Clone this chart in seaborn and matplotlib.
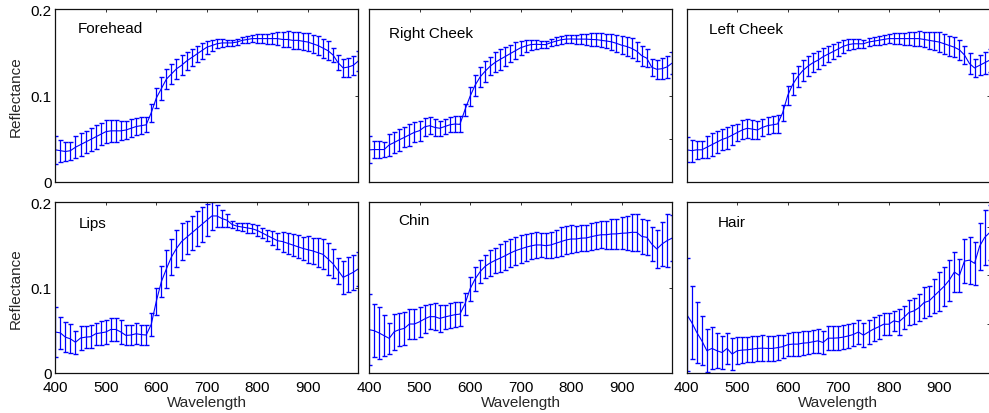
import matplotlib
matplotlib.use("Agg")
import matplotlib.pyplot as plt
import seaborn as sns
import pandas as pd

# ---------------- data ----------------
wavelength = [400, 410, 420, 430, 440, 450, 460, 470, 480, 490, 500,
              510, 520, 530, 540, 550, 560, 570, 580, 590, 600,
              610, 620, 630, 640, 650, 660, 670, 680, 690, 700,
              710, 720, 730, 740, 750, 760, 770, 780, 790, 800,
              810, 820, 830, 840, 850, 860, 870, 880, 890, 900,
              910, 920, 930, 940, 950, 960, 970, 980, 990, 1000]

panel_names = ["Forehead", "Right Cheek", "Left Cheek", "Lips", "Chin", "Hair"]

forehead_mean = [0.037, 0.036, 0.035, 0.036, 0.040, 0.043, 0.046, 0.049, 0.052, 0.055, 0.058,
                 0.059, 0.059, 0.059, 0.060, 0.062, 0.064, 0.065, 0.066, 0.080, 0.097,
                 0.108, 0.119, 0.125, 0.131, 0.135, 0.140, 0.144, 0.148, 0.152, 0.156,
                 0.158, 0.160, 0.161, 0.161, 0.161, 0.162, 0.164, 0.165, 0.166, 0.166,
                 0.166, 0.166, 0.166, 0.166, 0.165, 0.165, 0.164, 0.164, 0.163, 0.162,
                 0.160, 0.158, 0.155, 0.152, 0.147, 0.138, 0.132, 0.133, 0.135, 0.140]
forehead_std = [0.016, 0.0126, 0.0106, 0.0103, 0.0126, 0.013, 0.0126, 0.0135, 0.0135, 0.0126, 0.013,
                0.0128, 0.0128, 0.011, 0.0106, 0.0106, 0.010, 0.0097, 0.0087, 0.0104, 0.0116,
                0.0135, 0.0112, 0.0116, 0.0116, 0.0116, 0.0106, 0.010, 0.0093, 0.0093, 0.0077,
                0.0068, 0.0054, 0.0043, 0.0033, 0.0033, 0.003, 0.0033, 0.0037, 0.0043, 0.0048,
                0.0052, 0.0058, 0.0068, 0.0073, 0.0085, 0.0093, 0.0102, 0.010, 0.010, 0.0102,
                0.0106, 0.011, 0.011, 0.011, 0.0077, 0.0087, 0.010, 0.011, 0.011, 0.012]

rcheek_mean = [0.0369, 0.0373, 0.0373, 0.0373, 0.0427, 0.0455, 0.0486, 0.0514, 0.0544, 0.0573, 0.0592,
               0.0636, 0.065, 0.063, 0.062, 0.064, 0.066, 0.0669, 0.0665, 0.0834, 0.0988,
               0.1118, 0.1215, 0.1282, 0.134, 0.1385, 0.142, 0.1453, 0.1487, 0.152, 0.1553,
               0.1574, 0.159, 0.1594, 0.1592, 0.159, 0.1613, 0.163, 0.1646, 0.1654, 0.1656,
               0.1654, 0.1654, 0.1654, 0.165, 0.1648, 0.164, 0.1632, 0.1623, 0.1605, 0.1584,
               0.1569, 0.1547, 0.1515, 0.1462, 0.1433, 0.1327, 0.1304, 0.1311, 0.1331, 0.1375]
rcheek_std = [0.0157, 0.0102, 0.0102, 0.009, 0.0126, 0.0126, 0.0126, 0.0116, 0.0126, 0.0116, 0.0116,
              0.0102, 0.0097, 0.0097, 0.0087, 0.0087, 0.0087, 0.0089, 0.0093, 0.0068, 0.0106,
              0.012, 0.012, 0.0122, 0.0102, 0.0116, 0.012, 0.0106, 0.0102, 0.0097, 0.0083,
              0.0073, 0.0058, 0.0054, 0.0044, 0.0043, 0.0043, 0.0044, 0.0048, 0.0048, 0.005,
              0.0052, 0.0056, 0.0064, 0.0072, 0.0077, 0.008, 0.0085, 0.009, 0.0097, 0.0102,
              0.0106, 0.0116, 0.011, 0.0116, 0.0106, 0.0097, 0.0112, 0.012, 0.013, 0.0126]

lcheek_mean = [0.037, 0.036, 0.037, 0.037, 0.040, 0.043, 0.046, 0.049, 0.051, 0.054, 0.057,
               0.060, 0.062, 0.061, 0.060, 0.063, 0.065, 0.066, 0.067, 0.080, 0.100,
               0.113, 0.122, 0.129, 0.134, 0.138, 0.141, 0.145, 0.148, 0.151, 0.154,
               0.157, 0.159, 0.160, 0.160, 0.160, 0.162, 0.163, 0.164, 0.165, 0.166,
               0.166, 0.166, 0.166, 0.166, 0.166, 0.166, 0.165, 0.164, 0.163, 0.162,
               0.160, 0.158, 0.156, 0.153, 0.147, 0.137, 0.132, 0.135, 0.138, 0.141]
lcheek_std = [0.0145, 0.0126, 0.0106, 0.0097, 0.013, 0.013, 0.0126, 0.0126, 0.0126, 0.012, 0.0097,
              0.011, 0.011, 0.011, 0.0106, 0.0097, 0.0097, 0.0097, 0.0102, 0.0093, 0.0116,
              0.0126, 0.0126, 0.012, 0.0116, 0.011, 0.0106, 0.010, 0.0097, 0.009, 0.0083,
              0.0073, 0.006, 0.0055, 0.005, 0.0048, 0.0048, 0.0048, 0.005, 0.0052, 0.0055,
              0.006, 0.0065, 0.007, 0.0075, 0.008, 0.0087, 0.009, 0.0097, 0.0106, 0.0116,
              0.0116, 0.0116, 0.0116, 0.0116, 0.011, 0.0126, 0.0106, 0.0116, 0.0126, 0.0135]

lips_mean = [0.048, 0.047, 0.042, 0.040, 0.036, 0.041, 0.042, 0.0425, 0.046, 0.047, 0.048,
             0.051, 0.051, 0.048, 0.044, 0.0445, 0.046, 0.045, 0.0445, 0.057, 0.084,
             0.107, 0.122, 0.136, 0.146, 0.154, 0.159, 0.164, 0.169, 0.174, 0.179,
             0.184, 0.184, 0.181, 0.179, 0.174, 0.172, 0.171, 0.170, 0.169, 0.167,
             0.164, 0.161, 0.158, 0.155, 0.154, 0.152, 0.150, 0.148, 0.146, 0.1445,
             0.143, 0.141, 0.139, 0.1336, 0.128, 0.120, 0.112, 0.115, 0.118, 0.122]
lips_std = [0.029, 0.0186, 0.0172, 0.017, 0.0137, 0.0143, 0.0129, 0.0137, 0.0127, 0.0137, 0.0137,
            0.0131, 0.0137, 0.0137, 0.0117, 0.0121, 0.0121, 0.0117, 0.0117, 0.0137, 0.016,
            0.018, 0.022, 0.021, 0.022, 0.0215, 0.0195, 0.020, 0.0205, 0.0205, 0.019,
            0.0166, 0.013, 0.0105, 0.0078, 0.004, 0.0043, 0.0045, 0.0055, 0.0053, 0.0059,
            0.0059, 0.0068, 0.0086, 0.0094, 0.0117, 0.0123, 0.013, 0.0137, 0.0137, 0.0156,
            0.0156, 0.0166, 0.0176, 0.019, 0.0172, 0.0152, 0.019, 0.0205, 0.0205, 0.0195]

chin_mean = [0.0508, 0.0496, 0.0469, 0.0437, 0.0406, 0.0484, 0.0508, 0.0523, 0.0574, 0.0574, 0.060,
             0.0633, 0.066, 0.066, 0.064, 0.0656, 0.067, 0.0683, 0.069, 0.0808, 0.0984,
             0.110, 0.1187, 0.125, 0.129, 0.132, 0.1347, 0.1375, 0.1406, 0.1433, 0.1453,
             0.1472, 0.1488, 0.150, 0.150, 0.1492, 0.150, 0.152, 0.1539, 0.1558, 0.157,
             0.157, 0.158, 0.1582, 0.1597, 0.161, 0.162, 0.162, 0.1629, 0.163, 0.1637,
             0.164, 0.1648, 0.1648, 0.160, 0.159, 0.151, 0.1453, 0.151, 0.155, 0.158]
chin_std = [0.042, 0.031, 0.030, 0.024, 0.018, 0.021, 0.019, 0.019, 0.017, 0.018, 0.0176,
            0.0166, 0.0146, 0.0156, 0.0158, 0.0146, 0.0146, 0.0145, 0.014, 0.0129, 0.0137,
            0.014, 0.0137, 0.0137, 0.015, 0.0146, 0.0166, 0.0166, 0.0166, 0.0166, 0.016,
            0.016, 0.0156, 0.015, 0.0146, 0.015, 0.0156, 0.016, 0.0166, 0.0163, 0.016,
            0.0155, 0.015, 0.0153, 0.0156, 0.0156, 0.0156, 0.0165, 0.0176, 0.018, 0.0186,
            0.020, 0.0215, 0.022, 0.0205, 0.0205, 0.020, 0.0225, 0.026, 0.031, 0.027]

hair_mean = [0.060, 0.0518, 0.0416, 0.033, 0.0228, 0.0252, 0.0228, 0.021, 0.0252, 0.0194, 0.0228,
             0.0235, 0.0238, 0.0245, 0.0252, 0.0255, 0.0252, 0.0252, 0.026, 0.027, 0.029,
             0.0296, 0.0296, 0.0306, 0.031, 0.032, 0.033, 0.0313, 0.0357, 0.0357, 0.036,
             0.0368, 0.038, 0.0395, 0.042, 0.0388, 0.042, 0.045, 0.0473, 0.050, 0.050,
             0.0534, 0.0524, 0.0569, 0.062, 0.0637, 0.067, 0.0722, 0.0739, 0.079, 0.084,
             0.089, 0.0953, 0.1035, 0.100, 0.1147, 0.1157, 0.1124, 0.130, 0.139, 0.144]
hair_std = [0.058, 0.037, 0.031, 0.025, 0.022, 0.0215, 0.018, 0.017, 0.016, 0.016, 0.014,
            0.013, 0.013, 0.013, 0.013, 0.013, 0.013, 0.013, 0.013, 0.012, 0.012,
            0.012, 0.012, 0.012, 0.012, 0.012, 0.012, 0.012, 0.012, 0.012, 0.012,
            0.012, 0.012, 0.012, 0.012, 0.012, 0.012, 0.012, 0.012, 0.011, 0.011,
            0.010, 0.013, 0.012, 0.013, 0.013, 0.014, 0.016, 0.015, 0.017, 0.020,
            0.020, 0.021, 0.0204, 0.017, 0.0226, 0.024, 0.022, 0.024, 0.028, 0.028]

x_ticks = [400, 500, 600, 700, 800, 900]
y_ticks_std = [0, 0.1, 0.2]
y_tick_labels = ["0", "0.1", "0.2"]
y_ticks_fine = [0, 0.05, 0.1, 0.15, 0.2]
y_ticks_hair = [0, 0.05, 0.1, 0.15]

means = [forehead_mean, rcheek_mean, lcheek_mean, lips_mean, chin_mean, hair_mean]
stds = [forehead_std, rcheek_std, lcheek_std, lips_std, chin_std, hair_std]

# ---------------- style ----------------
sns.set_style("white")
plt.rcParams["font.family"] = ["Liberation Sans", "DejaVu Sans"]
plt.rcParams["font.size"] = 11

W, H = 989, 414
fig = plt.figure(figsize=(W / 100, H / 100), dpi=100)

col_left = [55.3, 369.0, 686.7]
col_w = 303.0
row_top = [10.3, 203.3]
row_h = [172.4, 170.7]

text_pos = [(0.075, 0.891), (0.066, 0.860), (0.074, 0.885),
            (0.079, 0.879), (0.095, 0.896), (0.102, 0.886)]

for i, name in enumerate(panel_names):
    r, c = divmod(i, 3)
    left = col_left[c] / W
    bottom = 1 - (row_top[r] + row_h[r]) / H
    ax = fig.add_axes([left, bottom, col_w / W, row_h[r] / H])
    df = pd.DataFrame({"Wavelength": wavelength, "Reflectance": means[i]})
    sns.lineplot(data=df, x="Wavelength", y="Reflectance", ax=ax,
                 color="#0000ff", linewidth=0.8, errorbar=None)
    eb = ax.errorbar(wavelength, means[i], yerr=stds[i], fmt="none",
                     ecolor="#0000ff", elinewidth=0.9, capsize=1.8, capthick=1.0)
    for cl in eb[1]:
        cl.set_color("#5a5aff")
    ax.set_xlim(400, 1000)
    if name == "Hair":
        ax.set_ylim(0, 0.175)
        ax.set_yticks(y_ticks_hair)
    elif name == "Right Cheek":
        ax.set_ylim(0, 0.2)
        ax.set_yticks(y_ticks_fine)
    else:
        ax.set_ylim(0, 0.2)
        ax.set_yticks(y_ticks_std)
    ax.set_xticks(x_ticks)
    ax.tick_params(direction="in", length=2.5, width=0.7, color="#333333",
                   top=True, right=True, labelsize=11, colors="black")
    ax.tick_params(axis="y", pad=2.5)
    ax.tick_params(axis="x", pad=5)
    if c == 0:
        ax.set_yticklabels(y_tick_labels)
        ax.set_ylabel("Reflectance", fontsize=11)
        ax.yaxis.set_label_coords(-0.106, 0.5)
    else:
        ax.set_yticklabels([])
        ax.set_ylabel("")
    if r == 1:
        ax.set_xticklabels([str(t) for t in x_ticks])
        ax.set_xlabel("Wavelength", fontsize=11)
        ax.xaxis.set_label_coords(0.5, -0.13)
    else:
        ax.set_xticklabels([])
        ax.set_xlabel("")
    for sp in ax.spines.values():
        sp.set_visible(True)
        sp.set_color("#111111")
        sp.set_linewidth(0.9)
    ax.text(text_pos[i][0], text_pos[i][1], name, transform=ax.transAxes,
            ha="left", va="center", fontsize=11, color="black")

fig.savefig("out.png", dpi=100)
